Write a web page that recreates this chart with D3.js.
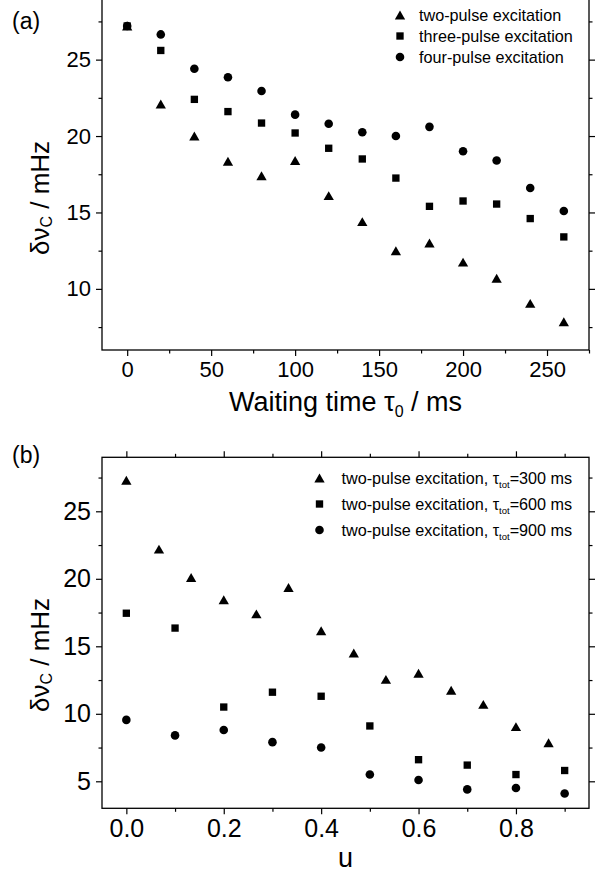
<!DOCTYPE html>
<html>
<head>
<meta charset="utf-8">
<script src="https://cdn.jsdelivr.net/npm/d3@7"></script>
<style>
  html, body { margin: 0; padding: 0; background: #fff; }
  svg { display: block; font-family: "Liberation Sans", Arial, Helvetica, sans-serif; }
</style>
</head>
<body>
<svg id="chart" width="598" height="876"></svg>
<script>
// ---------- Panel (a) data ----------
const waitTimes = [0, 20, 40, 60, 80, 100, 120, 140, 160, 180, 200, 220, 240, 260];
const twoPulse   = [27.2, 22.1, 20.0, 18.35, 17.4, 18.4, 16.1, 14.4, 12.5, 13.0, 11.75, 10.7, 9.05, 7.85];
const threePulse = [27.2, 25.6, 22.4, 21.6, 20.85, 20.2, 19.2, 18.5, 17.25, 15.4, 15.75, 15.55, 14.6, 13.4];
const fourPulse  = [27.2, 26.65, 24.4, 23.85, 22.95, 21.4, 20.8, 20.25, 20.0, 20.6, 19.0, 18.4, 16.6, 15.1];
const legendA = ["two-pulse excitation", "three-pulse excitation", "four-pulse excitation"];
const xTicksA = [0, 50, 100, 150, 200, 250];
const xMinorA = [25, 75, 125, 175, 225, 275];
const yTicksA = [10, 15, 20, 25];
const yMinorA = [7.5, 12.5, 17.5, 22.5, 27.5];

// ---------- Panel (b) data ----------
const u300 = [0, 0.067, 0.133, 0.2, 0.267, 0.333, 0.4, 0.467, 0.533, 0.6, 0.667, 0.733, 0.8, 0.867];
const tot300 = [27.3, 22.2, 20.1, 18.45, 17.4, 19.35, 16.15, 14.5, 12.55, 13.0, 11.75, 10.7, 9.05, 7.85];
const u600 = [0, 0.1, 0.2, 0.3, 0.4, 0.5, 0.6, 0.7, 0.8, 0.9];
const tot600 = [17.45, 16.35, 10.5, 11.6, 11.3, 9.1, 6.6, 6.2, 5.5, 5.8];
const u900 = [0, 0.1, 0.2, 0.3, 0.4, 0.5, 0.6, 0.7, 0.8, 0.9];
const tot900 = [9.55, 8.4, 8.8, 7.9, 7.5, 5.5, 5.1, 4.4, 4.5, 4.1];
const legendBtau = ["300", "600", "900"];
const xTicksB = [0, 0.2, 0.4, 0.6, 0.8];
const xMinorB = [0.1, 0.3, 0.5, 0.7, 0.9];
const yTicksB = [5, 10, 15, 20, 25];
const yMinorB = [7.5, 12.5, 17.5, 22.5, 27.5];

// ---------- drawing ----------
const svg = d3.select("#chart");

// triangle centred on its bounding box
const triBox = {
  draw(ctx, size) {
    const h = Math.sqrt(size * Math.sqrt(3));
    const s = 2 * h / Math.sqrt(3);
    ctx.moveTo(0, -h / 2);
    ctx.lineTo(s / 2, h / 2);
    ctx.lineTo(-s / 2, h / 2);
    ctx.closePath();
  }
};
const shapes = [
  d3.symbol().type(triBox).size(46)(),
  d3.symbol().type(d3.symbolSquare).size(54)(),
  d3.symbol().type(d3.symbolCircle).size(58)()
];

function panel(opt) {
  const g = svg.append("g");
  const x = d3.scaleLinear().domain(opt.xDomain).range([opt.left, opt.right]);
  const y = d3.scaleLinear().domain(opt.yDomain).range([opt.bottom, opt.top]);

  const axes = [
    [d3.axisBottom(x), `translate(0,${opt.bottom})`, true, opt.xTicks, opt.xMinor, opt.xFmt],
    [d3.axisTop(x), `translate(0,${opt.top})`, false, opt.xTicks, opt.xMinor, opt.xFmt],
    [d3.axisLeft(y), `translate(${opt.left},0)`, true, opt.yTicks, opt.yMinor, d3.format("d")],
    [d3.axisRight(y), `translate(${opt.right},0)`, false, opt.yTicks, opt.yMinor, d3.format("d")]
  ];
  axes.forEach(([ax, tr, labels, major, minor, fmt]) => {
    const maj = g.append("g").attr("transform", tr)
      .call(ax.tickValues(major).tickSizeInner(6).tickSizeOuter(0).tickPadding(5)
        .tickFormat(labels ? fmt : ""));
    maj.select(".domain").remove();
    maj.selectAll("line").attr("stroke", "#000").attr("stroke-width", 1.2);
    maj.selectAll("text").attr("font-size", opt.tickFont).attr("fill", "#000")
      .attr("font-family", "Liberation Sans, Arial, sans-serif");
    const mnr = g.append("g").attr("transform", tr)
      .call(ax.tickValues(minor).tickSizeInner(3.5).tickSizeOuter(0).tickFormat(""));
    mnr.select(".domain").remove();
    mnr.selectAll("line").attr("stroke", "#000").attr("stroke-width", 1.2);
  });

  g.append("rect")
    .attr("x", opt.left).attr("y", opt.top)
    .attr("width", opt.right - opt.left).attr("height", opt.bottom - opt.top)
    .attr("fill", "none").attr("stroke", "#000").attr("stroke-width", 1.3);

  opt.series.forEach((s, i) => {
    g.append("g").selectAll("path").data(s.y).join("path")
      .attr("d", shapes[i])
      .attr("transform", (d, j) => `translate(${x(s.x[j])},${y(d)})`)
      .attr("fill", "#000");
  });
  return { g, x, y };
}

// ---- Panel (a)
panel({
  left: 102, right: 589, top: -1.5, bottom: 350,
  xDomain: [-15, 275], yDomain: [6, 29],
  xTicks: xTicksA, xMinor: xMinorA, yTicks: yTicksA, yMinor: yMinorA,
  xFmt: d3.format("d"), tickFont: 22,
  series: [
    { x: waitTimes, y: twoPulse },
    { x: waitTimes, y: threePulse },
    { x: waitTimes, y: fourPulse }
  ]
});

svg.append("text").attr("x", 12).attr("y", 29).attr("font-size", 23).text("(a)");

legendA.forEach((t, i) => {
  const yy = 15 + i * 21;
  svg.append("path").attr("d", shapes[i]).attr("transform", `translate(400,${yy})`).attr("fill", "#000");
  svg.append("text").attr("x", 419).attr("y", yy + 5.5).attr("font-size", 16.2).text(t);
});

// x title (a)
{
  const t = svg.append("text").attr("x", 345.5).attr("y", 411).attr("text-anchor", "middle").attr("font-size", 27);
  t.append("tspan").text("Waiting time \u03C4");
  t.append("tspan").attr("font-size", 16).attr("dy", 6).text("0");
  t.append("tspan").attr("dy", -6).text(" / ms");
}
function yTitle(cx, cy) {
  const t = svg.append("text").attr("transform", `translate(${cx},${cy}) rotate(-90)`)
    .attr("text-anchor", "middle").attr("font-size", 26);
  t.append("tspan").text("\u03B4\u03BD");
  t.append("tspan").attr("font-size", 16).attr("dy", 3).text("C");
  t.append("tspan").attr("dy", -3).text(" / mHz");
}
yTitle(49, 198);

// ---- Panel (b)
panel({
  left: 102, right: 589, top: 457.3, bottom: 808.3,
  xDomain: [-0.05, 0.95], yDomain: [3, 29],
  xTicks: xTicksB, xMinor: xMinorB, yTicks: yTicksB, yMinor: yMinorB,
  xFmt: d3.format(".1f"), tickFont: 25,
  series: [
    { x: u300, y: tot300 },
    { x: u600, y: tot600 },
    { x: u900, y: tot900 }
  ]
});

svg.append("text").attr("x", 12).attr("y", 463).attr("font-size", 23).text("(b)");

legendBtau.forEach((v, i) => {
  const yy = 478 + i * 26;
  svg.append("path").attr("d", shapes[i]).attr("transform", `translate(319.5,${yy})`).attr("fill", "#000");
  const t = svg.append("text").attr("x", 341.5).attr("y", yy + 5.5).attr("font-size", 16.2);
  t.append("tspan").text("two-pulse excitation, \u03C4");
  t.append("tspan").attr("font-size", 9.5).attr("dy", 4).text("tot");
  t.append("tspan").attr("dy", -4).text("=" + v + " ms");
});

svg.append("text").attr("x", 345.5).attr("y", 867).attr("text-anchor", "middle").attr("font-size", 27).text("u");
yTitle(49, 655);
</script>
</body>
</html>
